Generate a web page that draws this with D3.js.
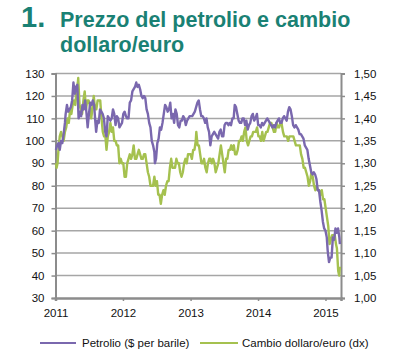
<!DOCTYPE html>
<html><head><meta charset="utf-8">
<script src="https://cdn.jsdelivr.net/npm/d3@7"></script>
<style>
html,body{margin:0;padding:0;background:#fff;}
svg{display:block;}
</style></head>
<body>
<script>
const titleNum = "1.";
const titleLines = ["Prezzo del petrolio e cambio", "dollaro/euro"];
const seriesNames = ["Petrolio ($ per barile)", "Cambio dollaro/euro (dx)"];
const leftTicks = [30,40,50,60,70,80,90,100,110,120,130];
const rightTicks = [1.00,1.05,1.10,1.15,1.20,1.25,1.30,1.35,1.40,1.45,1.50];
const yearTicks = ["2011","2012","2013","2014","2015"];

const oilDates = ["2011-01-03","2011-01-10","2011-01-17","2011-01-24","2011-01-31","2011-02-07","2011-02-14","2011-02-21","2011-02-25","2011-03-04","2011-03-11","2011-03-18","2011-03-25","2011-04-01","2011-04-08","2011-04-15","2011-04-22","2011-04-29","2011-05-06","2011-05-13","2011-05-20","2011-05-27","2011-06-03","2011-06-10","2011-06-17","2011-06-24","2011-07-01","2011-07-08","2011-07-15","2011-07-22","2011-07-29","2011-08-05","2011-08-09","2011-08-16","2011-08-23","2011-08-30","2011-09-06","2011-09-13","2011-09-20","2011-09-27","2011-10-04","2011-10-11","2011-10-18","2011-10-25","2011-11-01","2011-11-08","2011-11-15","2011-11-22","2011-11-29","2011-12-06","2011-12-13","2011-12-20","2011-12-27","2012-01-03","2012-01-10","2012-01-17","2012-01-24","2012-01-31","2012-02-07","2012-02-14","2012-02-21","2012-02-28","2012-03-06","2012-03-13","2012-03-20","2012-03-27","2012-04-03","2012-04-10","2012-04-17","2012-04-24","2012-05-01","2012-05-08","2012-05-15","2012-05-22","2012-05-29","2012-06-05","2012-06-12","2012-06-19","2012-06-22","2012-06-28","2012-07-05","2012-07-12","2012-07-19","2012-07-26","2012-08-02","2012-08-09","2012-08-16","2012-08-23","2012-08-30","2012-09-06","2012-09-13","2012-09-20","2012-09-27","2012-10-04","2012-10-11","2012-10-18","2012-10-25","2012-11-01","2012-11-08","2012-11-15","2012-11-22","2012-11-29","2012-12-06","2012-12-13","2012-12-20","2012-12-27","2013-01-03","2013-01-10","2013-01-17","2013-01-24","2013-01-31","2013-02-07","2013-02-14","2013-02-21","2013-02-28","2013-03-07","2013-03-14","2013-03-21","2013-03-28","2013-04-04","2013-04-11","2013-04-18","2013-04-25","2013-05-02","2013-05-09","2013-05-16","2013-05-23","2013-05-30","2013-06-06","2013-06-13","2013-06-20","2013-06-27","2013-07-04","2013-07-11","2013-07-18","2013-07-25","2013-08-01","2013-08-08","2013-08-15","2013-08-22","2013-08-28","2013-09-04","2013-09-11","2013-09-18","2013-09-25","2013-10-02","2013-10-09","2013-10-16","2013-10-23","2013-10-30","2013-11-06","2013-11-13","2013-11-20","2013-11-27","2013-12-04","2013-12-11","2013-12-18","2013-12-26","2014-01-02","2014-01-09","2014-01-16","2014-01-23","2014-01-30","2014-02-06","2014-02-13","2014-02-20","2014-02-27","2014-03-06","2014-03-13","2014-03-20","2014-03-27","2014-04-03","2014-04-10","2014-04-17","2014-04-24","2014-05-01","2014-05-08","2014-05-15","2014-05-22","2014-05-29","2014-06-05","2014-06-12","2014-06-19","2014-06-26","2014-07-03","2014-07-10","2014-07-17","2014-07-24","2014-07-31","2014-08-07","2014-08-14","2014-08-21","2014-08-28","2014-09-04","2014-09-11","2014-09-18","2014-09-25","2014-10-02","2014-10-09","2014-10-16","2014-10-23","2014-10-30","2014-11-06","2014-11-13","2014-11-20","2014-11-27","2014-12-04","2014-12-11","2014-12-18","2014-12-25","2015-01-01","2015-01-08","2015-01-13","2015-01-20","2015-01-27","2015-02-03","2015-02-10","2015-02-17","2015-02-24","2015-03-03","2015-03-10","2015-03-17","2015-03-20"];
const oilValues = [96,98,99,96,100,99,103,108,112,116,113,114,115,118,126,121,124,125,110,113,111,116,114,118,113,106,112,117,116,118,116,108,104,109,108,114,113,112,110,104,102,111,110,109,110,114,112,107,111,110,106,107,108,112,113,111,110,110,117,118,122,123,124,126,124,125,123,120,119,120,119,114,112,108,106,100,98,95,90,92,99,101,106,105,108,112,116,115,113,114,117,110,112,108,114,112,107,106,109,109,111,110,107,109,110,111,111,111,112,113,115,117,118,114,111,111,110,108,110,106,104,98,102,103,104,103,102,101,104,105,102,102,107,108,108,107,108,107,110,110,116,115,112,109,108,108,110,110,107,109,105,107,108,111,112,109,110,112,107,107,106,108,107,108,109,110,109,108,107,106,107,106,108,109,110,108,108,110,111,110,109,113,115,114,111,107,106,107,106,105,103,103,102,101,98,97,96,92,89,86,85,86,85,83,78,78,73,69,64,61,60,57,51,46,48,48,57,56,61,59,61,57,54,53];

const fxDates = ["2011-01-03","2011-01-07","2011-01-12","2011-01-17","2011-01-24","2011-01-31","2011-02-07","2011-02-14","2011-02-21","2011-02-28","2011-03-07","2011-03-14","2011-03-21","2011-03-28","2011-04-04","2011-04-11","2011-04-18","2011-04-25","2011-05-02","2011-05-04","2011-05-11","2011-05-18","2011-05-25","2011-06-01","2011-06-08","2011-06-15","2011-06-22","2011-06-29","2011-07-06","2011-07-13","2011-07-20","2011-07-27","2011-08-03","2011-08-10","2011-08-17","2011-08-24","2011-08-31","2011-09-07","2011-09-14","2011-09-21","2011-09-28","2011-10-04","2011-10-11","2011-10-18","2011-10-25","2011-11-01","2011-11-08","2011-11-15","2011-11-22","2011-11-29","2011-12-06","2011-12-13","2011-12-20","2011-12-27","2012-01-03","2012-01-10","2012-01-17","2012-01-24","2012-01-31","2012-02-07","2012-02-14","2012-02-21","2012-02-28","2012-03-06","2012-03-13","2012-03-20","2012-03-27","2012-04-03","2012-04-10","2012-04-17","2012-04-24","2012-05-01","2012-05-08","2012-05-15","2012-05-22","2012-05-29","2012-06-05","2012-06-12","2012-06-19","2012-06-26","2012-07-03","2012-07-10","2012-07-17","2012-07-24","2012-07-31","2012-08-07","2012-08-14","2012-08-21","2012-08-28","2012-09-04","2012-09-11","2012-09-18","2012-09-25","2012-10-02","2012-10-09","2012-10-16","2012-10-23","2012-10-30","2012-11-06","2012-11-13","2012-11-20","2012-11-27","2012-12-04","2012-12-11","2012-12-18","2012-12-25","2013-01-01","2013-01-08","2013-01-15","2013-01-22","2013-01-29","2013-02-01","2013-02-08","2013-02-15","2013-02-22","2013-03-01","2013-03-08","2013-03-15","2013-03-22","2013-03-29","2013-04-05","2013-04-12","2013-04-19","2013-04-26","2013-05-03","2013-05-10","2013-05-17","2013-05-24","2013-05-31","2013-06-07","2013-06-14","2013-06-21","2013-06-28","2013-07-05","2013-07-12","2013-07-19","2013-07-26","2013-08-02","2013-08-09","2013-08-16","2013-08-23","2013-08-30","2013-09-06","2013-09-13","2013-09-20","2013-09-27","2013-10-04","2013-10-11","2013-10-18","2013-10-25","2013-11-01","2013-11-08","2013-11-15","2013-11-22","2013-11-29","2013-12-06","2013-12-13","2013-12-20","2013-12-27","2014-01-03","2014-01-10","2014-01-17","2014-01-24","2014-01-31","2014-02-07","2014-02-14","2014-02-21","2014-02-28","2014-03-07","2014-03-14","2014-03-21","2014-03-28","2014-04-04","2014-04-11","2014-04-18","2014-04-25","2014-05-02","2014-05-08","2014-05-16","2014-05-23","2014-05-30","2014-06-06","2014-06-13","2014-06-20","2014-06-27","2014-07-04","2014-07-11","2014-07-18","2014-07-25","2014-08-01","2014-08-08","2014-08-15","2014-08-22","2014-08-29","2014-09-05","2014-09-12","2014-09-19","2014-09-26","2014-10-03","2014-10-10","2014-10-17","2014-10-24","2014-10-31","2014-11-07","2014-11-14","2014-11-21","2014-11-28","2014-12-05","2014-12-12","2014-12-19","2014-12-26","2015-01-02","2015-01-09","2015-01-16","2015-01-23","2015-01-30","2015-02-06","2015-02-13","2015-02-20","2015-02-27","2015-03-04","2015-03-11","2015-03-16","2015-03-20"];
const fxValues = [1.30,1.29,1.30,1.33,1.36,1.37,1.36,1.35,1.37,1.38,1.40,1.39,1.42,1.41,1.43,1.44,1.43,1.46,1.48,1.49,1.43,1.42,1.41,1.44,1.46,1.42,1.44,1.44,1.43,1.40,1.42,1.45,1.42,1.42,1.44,1.44,1.44,1.40,1.37,1.36,1.36,1.33,1.36,1.37,1.39,1.37,1.38,1.35,1.35,1.34,1.34,1.30,1.31,1.30,1.30,1.27,1.27,1.30,1.31,1.32,1.31,1.32,1.34,1.31,1.31,1.32,1.33,1.32,1.31,1.31,1.32,1.32,1.30,1.28,1.27,1.25,1.25,1.25,1.27,1.25,1.26,1.23,1.23,1.21,1.23,1.24,1.23,1.25,1.26,1.26,1.29,1.31,1.29,1.29,1.29,1.31,1.30,1.30,1.28,1.27,1.28,1.30,1.31,1.30,1.32,1.32,1.32,1.31,1.33,1.33,1.35,1.37,1.34,1.34,1.32,1.30,1.30,1.31,1.29,1.28,1.30,1.31,1.31,1.30,1.31,1.30,1.28,1.29,1.30,1.32,1.34,1.32,1.30,1.28,1.31,1.31,1.33,1.33,1.34,1.33,1.34,1.32,1.32,1.33,1.35,1.35,1.36,1.35,1.37,1.38,1.35,1.34,1.35,1.36,1.36,1.37,1.37,1.37,1.38,1.36,1.36,1.35,1.37,1.35,1.36,1.37,1.37,1.38,1.39,1.39,1.38,1.37,1.37,1.39,1.38,1.38,1.39,1.39,1.37,1.36,1.36,1.36,1.35,1.36,1.36,1.36,1.36,1.35,1.34,1.34,1.34,1.34,1.32,1.31,1.29,1.29,1.28,1.27,1.25,1.26,1.28,1.27,1.25,1.24,1.25,1.24,1.24,1.23,1.24,1.22,1.22,1.20,1.18,1.16,1.12,1.13,1.14,1.14,1.14,1.12,1.11,1.06,1.05,1.07];

const W = 397, H = 361;
const svg = d3.select("body").append("svg").attr("width", W).attr("height", H);
const teal = "#1a8174";
const purple = "#7a68ae";
const green = "#a5c14f";
const gridCol = "#a6a6a6";
const axisCol = "#8c8c8c";

// Title
svg.append("text").attr("x", 21).attr("y", 27).text(titleNum)
  .attr("font-family", "Liberation Sans, Arial, sans-serif").attr("font-weight", "bold")
  .attr("font-size", 29).attr("fill", teal);
titleLines.forEach((t, i) => {
  svg.append("text").attr("x", 60).attr("y", 27 + i * 24.5).text(t)
    .attr("font-family", "Liberation Sans Narrow, Arial Narrow, sans-serif").attr("font-weight", "bold")
    .attr("font-size", 21.5).attr("fill", teal);
});

const parse = d3.timeParse("%Y-%m-%d");
const x = d3.scaleTime().domain([parse("2011-01-01"), parse("2015-03-26")]).range([55.5, 341]);
const yL = d3.scaleLinear().domain([30, 130]).range([298, 73.5]);
const yR = d3.scaleLinear().domain([1.00, 1.50]).range([298, 73.5]);

// gridlines
svg.append("g").selectAll("line").data(leftTicks.slice(1)).join("line")
  .attr("x1", 55.5).attr("x2", 341).attr("y1", d => yL(d)).attr("y2", d => yL(d))
  .attr("stroke", gridCol).attr("stroke-width", 1.5);

const fontTick = "Liberation Sans, Arial, sans-serif";
// left axis
const gL = svg.append("g").attr("transform", "translate(55.5,0)")
  .call(d3.axisLeft(yL).tickValues(leftTicks).tickSize(4).tickPadding(7).tickFormat(d3.format("d")));
// right axis
const gR = svg.append("g").attr("transform", "translate(341,0)")
  .call(d3.axisRight(yR).tickValues(rightTicks).tickSize(4).tickPadding(9).tickFormat(d => d3.format(".2f")(d).replace(".", ",")));
// bottom axis
const gB = svg.append("g").attr("transform", "translate(0,298)")
  .call(d3.axisBottom(x).tickValues(yearTicks.map(y => parse(y + "-01-01"))).tickSize(3).tickPadding(8).tickFormat(d3.timeFormat("%Y")));

[gL, gR, gB].forEach(g => {
  g.select(".domain").attr("stroke", axisCol).attr("stroke-width", 2);
  g.selectAll(".tick line").attr("stroke", axisCol).attr("stroke-width", 1.5);
  g.selectAll("text").attr("font-family", fontTick).attr("font-size", 11.5).attr("fill", "#111");
});
gB.select(".domain").attr("stroke-width", 2.5);

// lines
const oil = oilDates.map((d, i) => ({ d: parse(d), v: oilValues[i] }));
const fx = fxDates.map((d, i) => ({ d: parse(d), v: fxValues[i] }));
svg.append("path").datum(fx)
  .attr("d", d3.line().x(p => x(p.d)).y(p => yR(p.v)))
  .attr("fill", "none").attr("stroke", green).attr("stroke-width", 2.4).attr("stroke-linejoin", "round");
svg.append("path").datum(oil)
  .attr("d", d3.line().x(p => x(p.d)).y(p => yL(p.v)))
  .attr("fill", "none").attr("stroke", purple).attr("stroke-width", 2.4).attr("stroke-linejoin", "round");

// legend
const leg = [{ x1: 40, x2: 76, tx: 82, c: purple, t: seriesNames[0] }, { x1: 200, x2: 238, tx: 242, c: green, t: seriesNames[1] }];
leg.forEach(l => {
  svg.append("line").attr("x1", l.x1).attr("x2", l.x2).attr("y1", 343).attr("y2", 343).attr("stroke", l.c).attr("stroke-width", 2);
  svg.append("text").attr("x", l.tx).attr("y", 347).text(l.t)
    .attr("font-family", fontTick).attr("font-size", 11.5).attr("fill", "#111");
});
</script>
</body></html>
